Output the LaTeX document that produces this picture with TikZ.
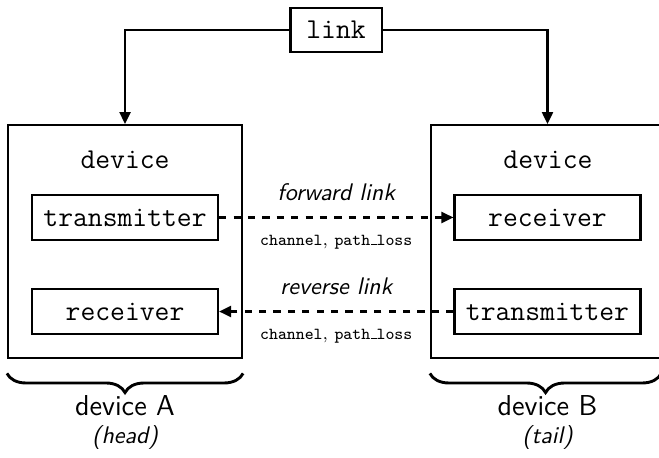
\documentclass[tikz,border=0pt]{standalone}
\usetikzlibrary{positioning}
\usetikzlibrary{arrows.meta,decorations.pathreplacing}
\newcommand{\uscore}{\kern.06em\vbox{\hrule width.32em height.6pt}}
\begin{document}
\begin{tikzpicture}
	\tikzstyle{devbox} = [rectangle, draw=black, line width=0.9pt, minimum width=97.5pt, minimum height=97pt]
	\tikzstyle{part} = [rectangle, draw=black, line width=0.9pt, minimum width=77.5pt, minimum height=18.75pt, font=\ttfamily\large]
	\tikzstyle{arrow} = [line width=0.9pt,-{Triangle[length=5pt,width=4.6pt]}]
	\tikzstyle{wireless} = [line width=0.9pt,dashed,-{Triangle[length=5pt,width=4.6pt]}]
	\tikzstyle{brace} = [decorate, decoration={brace,mirror,amplitude=8pt}, very thick]
	\useasboundingbox (0,0) rectangle (9.651,-6.707);
	% the two devices
	\node (devA) [devbox] at (1.831,-3.537) {};
	\node (devB) [devbox] at (8.025,-3.537) {};
	\node (titleA) [font=\ttfamily\large] at (1.831,-2.343) {device};
	\node (titleB) [font=\ttfamily\large] at (8.025,-2.343) {device};
	\node (txA) [part] at (1.831,-3.185) {transmitter};
	\node (rxA) [part] at (1.831,-4.562) {receiver};
	\node (rxB) [part] at (8.018,-3.185) {receiver};
	\node (txB) [part] at (8.018,-4.562) {transmitter};
	% link on top
	\node (link) [part, minimum width=38pt, minimum height=18.3pt] at (4.921,-0.439) {link};
	\draw[arrow] (link.west) -| (devA.north);
	\draw[arrow] (link.east) -| (rxB.center |- devB.north);
	% forward and reverse
	\draw[wireless] (txA) -- (rxB)
		node[midway, above=3pt, font=\sffamily\itshape] {forward link}
		node[midway, below=3.5pt, font=\scriptsize] {\texttt{channel}, \texttt{path\uscore loss}};
	\draw[wireless] (txB) -- (rxA)
		node[midway, above=3pt, font=\sffamily\itshape] {reverse link}
		node[midway, below=3.5pt, font=\scriptsize] {\texttt{channel}, \texttt{path\uscore loss}};
	% braces and names
	\draw[brace] ([yshift=-6pt]devA.south west) -- ([yshift=-6pt]devA.south east);
	\draw[brace] ([yshift=-6pt]devB.south west) -- ([xshift=-2pt,yshift=-6pt]devB.south east);
	\node (nameA) [font=\sffamily\large] at (1.831,-5.946) {device A};
	\node (roleA) [font=\sffamily\itshape] at (1.831,-6.414) {(head)};
	\node (nameB) [font=\sffamily\large] at (8.018,-5.946) {device B};
	\node (roleB) [font=\sffamily\itshape] at (8.018,-6.414) {(tail)};
\end{tikzpicture}
\end{document}
